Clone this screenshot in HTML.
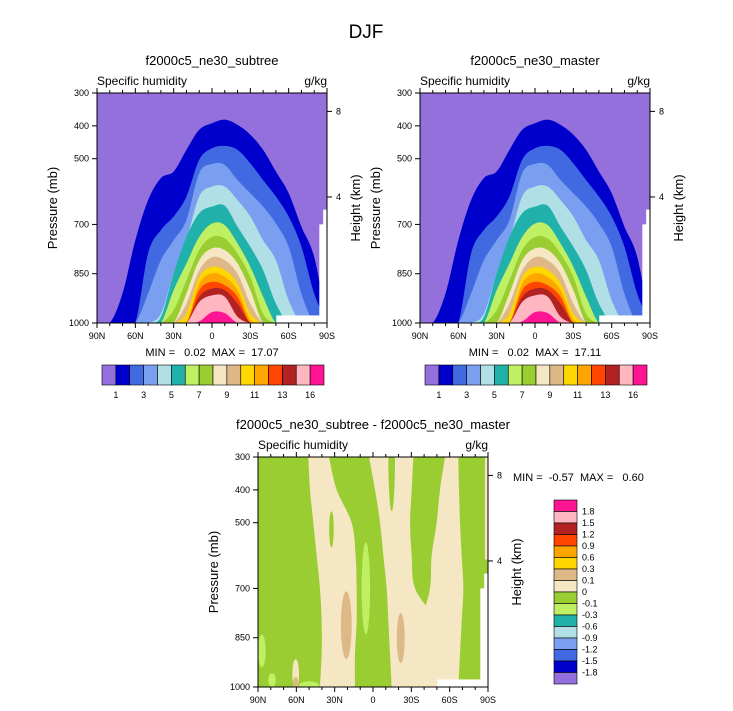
<!DOCTYPE html>
<html><head><meta charset="utf-8">
<style>
html,body{margin:0;padding:0;background:#fff;}
svg{display:block;font-family:"Liberation Sans",Arial,sans-serif;}
svg text{white-space:pre;}
</style></head>
<body>
<svg id="fig" width="733" height="711" viewBox="0 0 733 711" xmlns="http://www.w3.org/2000/svg">
<text x="366" y="38" font-size="19" text-anchor="middle">DJF</text>
<g id="pA"></g>
<g id="pB"></g>
<g id="pC"></g>
<g id="cbTop1"></g>
<g id="cbTop2"></g>
<g id="cbDiff"></g>
</svg>
<script>
// ---------- data ----------
const lats = [90,80,70,60,50,40,30,20,10,0,-10,-20,-30,-40,-50,-60,-70,-80,-90];
const lev1  = [1000,1000,910,748,626,559,539,473,412,392,381,397,427,473,539,605,707,799,1000];
const lev2  = [1000,1000,1000,1000,788,717,676,615,503,468,461,473,514,565,615,676,768,911,1000];
const lev3  = [1000,1000,1000,1000,910,809,748,687,544,516,519,565,605,646,697,768,911,1000,1000];
const lev4  = [1000,1000,1000,1000,1000,972,849,748,615,585,585,626,676,748,809,931,1000,1000,1000];
const lev5  = [1000,1000,1000,1000,1000,982,849,738,666,646,643,707,768,839,941,1000,1000,1000,1000];
const lev6  = [1000,1000,1000,1000,1000,1000,900,819,738,697,702,758,829,920,1000,1000,1000,1000,1000];
const lev7  = [1000,1000,1000,1000,1000,1000,961,870,778,738,743,789,860,972,1000,1000,1000,1000,1000];
const lev8  = [1000,1000,1000,1000,1000,1000,1000,910,809,773,778,819,900,1000,1000,1000,1000,1000,1000];
const lev9  = [1000,1000,1000,1000,1000,1000,1000,941,840,800,809,850,941,1000,1000,1000,1000,1000,1000];
const lev10 = [1000,1000,1000,1000,1000,1000,1000,972,860,829,839,880,972,1000,1000,1000,1000,1000,1000];
const lev11 = [1000,1000,1000,1000,1000,1000,1000,1000,880,849,860,900,990,1000,1000,1000,1000,1000,1000];
const lev12 = [1000,1000,1000,1000,1000,1000,1000,1000,900,875,885,920,1000,1000,1000,1000,1000,1000,1000];
const lev13 = [1000,1000,1000,1000,1000,1000,1000,1000,920,895,900,941,1000,1000,1000,1000,1000,1000,1000];
const lev14 = [1000,1000,1000,1000,1000,1000,1000,1000,936,916,920,981,1000,1000,1000,1000,1000,1000,1000];
const lev15 = [1000,1000,1000,1000,1000,1000,1000,1000,995,967,970,1000,1000,1000,1000,1000,1000,1000,1000];
const levels = [lev1,lev2,lev3,lev4,lev5,lev6,lev7,lev8,lev9,lev10,lev11,lev12,lev13,lev14,lev15];
const fillColors = ["#9370DB","#0000CD","#4169E1","#7B9FF0","#B0E0E6","#20B2AA","#BFEF63","#9ACD32","#F5E6C4","#DEB887","#FFD700","#FFA500","#FF4500","#B22222","#FFB6C1","#FF1493"];
const topBarLabels = ["1","3","5","7","9","11","13","16"];
const topBarLabelIdx = [1,3,5,7,9,11,13,15];
const diffBarLabels = ["1.8","1.5","1.2","0.9","0.6","0.3","0.1","0","-0.1","-0.3","-0.6","-0.9","-1.2","-1.5","-1.8"];
// difference bands (beige 0..0.1): pressure levels and left/right latitude edges
const bandP = [300,400,500,600,700,800,900,1000];
const bandALeft  = [50.6,49.3,46.7,44.1,41.5,40.2,40.2,41.5];
const bandARight = [34.4,28.4,16.7,13.6,12.8,12.8,14.1,14.1];
const bandBLeft  = [3.1,-1.6,-5.5,-8.1,-10.7,-12.0,-13.3,-14.6];
const bandBRight = [-31.6,-30.3,-29.0,-30.3,-32.9,-48.5,-48.5,-48.5];
const bandCLeft  = [-56.3,-52.4,-49.8,-45.9,-44.6,-38.1,-35.5,-38.1];
const bandCRight = [-66.8,-67.3,-68.1,-69.4,-70.7,-69.4,-68.1,-66.8];
// blobs: [lat, p, halfWidthDeg, halfHeightMb]
const greenBlobs = [[-14.6,300,2.6,165],[32.5,520,1.8,55]];
const beigeBlobs = [[60.5,960,2.6,45]];
const tanBlobs = [[20.9,812,4.2,103],[-21.7,851,3.1,76],[60.5,985,2,15],[-74,990,2,10]];
const lgBlobs  = [[5.6,700,3.3,140],[87,890,3,50],[79,980,3,22],[50,995,8,12]];
const xTickLabels = ["90N","60N","30N","0","30S","60S","90S"];
const xTickLats = [90,60,30,0,-30,-60,-90];
const pTicks = [300,400,500,700,850,1000];
const hTicks = [4,8];

const NS="http://www.w3.org/2000/svg";
function mk(parent,tag,attrs,txt){const e=document.createElementNS(NS,tag);for(const k in attrs)e.setAttribute(k,attrs[k]);if(txt!==undefined)e.textContent=txt;parent.appendChild(e);return e;}
function spline(pts){let d="M"+pts[0][0]+","+pts[0][1];for(let i=0;i<pts.length-1;i++){const p0=pts[Math.max(0,i-1)],p1=pts[i],p2=pts[i+1],p3=pts[Math.min(pts.length-1,i+2)];const c1=[p1[0]+(p2[0]-p0[0])/6,p1[1]+(p2[1]-p0[1])/6],c2=[p2[0]-(p3[0]-p1[0])/6,p2[1]-(p3[1]-p1[1])/6];d+=" C"+c1[0]+","+c1[1]+" "+c2[0]+","+c2[1]+" "+p2[0]+","+p2[1];}return d;}
function hToP(h){return 1013.25*Math.pow(1-2.25577e-5*h*1000,5.2559);}

function axes(g,x0,y0,w,h,id,title){
  const xs=lat=>x0+(90-lat)/180*w, yp=p=>y0+(p-300)/700*h;
  const cp=mk(g,"clipPath",{id:id}); mk(cp,"rect",{x:x0,y:y0,width:w,height:h});
  const data=mk(g,"g",{"clip-path":"url(#"+id+")"});
  
  
  return {xs,yp,data,x0,y0,w,h,title};
}
function frame(g,A){
  const {xs,yp,x0,y0,w,h}=A;
  const fr=mk(g,"rect",{x:x0,y:y0,width:w,height:h,fill:"none",stroke:"#000","stroke-width":1});
  
  
  for(let lat=90;lat>=-90;lat-=10){const x=xs(lat);const L=(lat%30===0)?5:3;
    mk(g,"line",{x1:x,y1:y0,x2:x,y2:y0-L,stroke:"#000","stroke-width":1});
    mk(g,"line",{x1:x,y1:y0+h,x2:x,y2:y0+h+L,stroke:"#000","stroke-width":1});}
  xTickLabels.forEach((t,i)=>{const e=mk(g,"text",{x:xs(xTickLats[i]),y:y0+h+16,"font-size":9,"text-anchor":"middle"},t);
    
    });
  pTicks.forEach(p=>{const y=yp(p);mk(g,"line",{x1:x0,y1:y,x2:x0-5,y2:y,stroke:"#000","stroke-width":1});
    const e=mk(g,"text",{x:x0-8,y:y+3,"font-size":9,"text-anchor":"end"},String(p));
    
    });
  hTicks.forEach(hk=>{const y=yp(hToP(hk));mk(g,"line",{x1:x0+w,y1:y,x2:x0+w+5,y2:y,stroke:"#000","stroke-width":1});
    const e=mk(g,"text",{x:x0+w+9,y:y+3,"font-size":9},String(hk));
    
    });
  let e=mk(g,"text",{x:x0-40,y:y0+h/2,"font-size":13,"text-anchor":"middle",transform:"rotate(-90 "+(x0-40)+" "+(y0+h/2)+")"},"Pressure (mb)");
  
  
  e=mk(g,"text",{x:x0+w+33,y:y0+h/2,"font-size":13,"text-anchor":"middle",transform:"rotate(-90 "+(x0+w+33)+" "+(y0+h/2)+")"},"Height (km)");
  
  
  e=mk(g,"text",{x:x0,y:y0-8,"font-size":12},"Specific humidity");
  
  
  e=mk(g,"text",{x:x0+w,y:y0-8,"font-size":12,"text-anchor":"end"},"g/kg");
  
  
  e=mk(g,"text",{x:x0+w/2,y:y0-28,"font-size":13,"text-anchor":"middle"},A.title);
  
  
}
function maskWhite(A){
  const {xs,yp,data}=A;
  mk(data,"rect",{x:xs(-50.3),y:yp(977),width:xs(-90)-xs(-50.3),height:yp(1000)-yp(977),fill:"#fff"});
  mk(data,"path",{d:"M"+xs(-84)+","+yp(1000)+" L"+xs(-84)+","+yp(700)+" L"+xs(-87)+","+yp(700)+" L"+xs(-87)+","+yp(655)+" L"+xs(-90)+","+yp(655)+" L"+xs(-90)+","+yp(1000)+"Z",fill:"#fff"});
}
function qPanel(gid,x0,title,mm){
  const g=document.getElementById(gid);
  const A=axes(g,x0,93,230,230,gid+"clip",title);
  const {xs,yp,data}=A;
  mk(data,"rect",{x:x0,y:93,width:230,height:230,fill:fillColors[0]});
  levels.forEach((lv,k)=>{
    const pts=lats.map((la,i)=>[xs(la),yp(lv[i])]);
    let d=spline(pts)+" L"+xs(-90)+","+yp(1005)+" L"+xs(90)+","+yp(1005)+"Z";
    const p=mk(data,"path",{d:d,fill:fillColors[k+1]});
    
    
  });
  maskWhite(A);
  frame(g,A);
  const e=mk(g,"text",{x:x0+115,y:356,"font-size":11,"text-anchor":"middle"},mm);
  
  
}
qPanel("pA",97,"f2000c5_ne30_subtree","MIN =   0.02  MAX =  17.07");
qPanel("pB",420,"f2000c5_ne30_master","MIN =   0.02  MAX =  17.11");

// difference panel
(function(){
  const g=document.getElementById("pC");
  const A=axes(g,258,457,230,230,"pCclip","f2000c5_ne30_subtree - f2000c5_ne30_master");
  const {xs,yp,data}=A;
  mk(data,"rect",{x:258,y:457,width:230,height:230,fill:"#9ACD32"});
  function band(L,R,name){
    const left=bandP.map((p,i)=>[xs(L[i]),yp(p)]);
    const right=bandP.map((p,i)=>[xs(R[i]),yp(p)]).reverse();
    left.unshift([xs(L[0]),yp(290)]); left.push([xs(L[L.length-1]),yp(1010)]);
    right.unshift([xs(R[R.length-1]),yp(1010)]); right.push([xs(R[0]),yp(290)]);
    const d=spline(left)+" L"+right[0][0]+","+right[0][1]+spline(right).replace(/^M[^C]*/," ")+"Z";
    const p=mk(data,"path",{d:d,fill:"#F5E6C4"});
    
    
  }
  band(bandALeft,bandARight,"positive-band-a");
  band(bandBLeft,bandBRight,"positive-band-b");
  band(bandCLeft,bandCRight,"positive-band-c");
  let s=mk(data,"rect",{x:xs(-87.6),y:yp(290),width:xs(-90)-xs(-87.6),height:yp(612)-yp(290),fill:"#F5E6C4"});
  
  
  function blobs(arr,color,name){arr.forEach(b=>{const e=mk(data,"ellipse",{cx:xs(b[0]),cy:yp(b[1]),rx:xs(90-b[2])-xs(90),ry:yp(300+b[3])-yp(300),fill:color});
    
    });}
  blobs(greenBlobs,"#9ACD32","negative-finger");
  blobs(beigeBlobs,"#F5E6C4","positive-blob");
  blobs(tanBlobs,"#DEB887","tan-blob");
  blobs(lgBlobs,"#BFEF63","light-green-blob");
  maskWhite(A);
  frame(g,A);
  const e=mk(g,"text",{x:513,y:481,"font-size":11},"MIN =  -0.57  MAX =   0.60");
  
  
})();

// colorbars
function hBar(gid,x0){
  const g=document.getElementById(gid);const bw=222/16;
  fillColors.forEach((c,i)=>{const r=mk(g,"rect",{x:x0+i*bw,y:365,width:bw,height:20,fill:c,stroke:"#000","stroke-width":0.6});
    
    });
  topBarLabels.forEach((t,i)=>{const e=mk(g,"text",{x:x0+topBarLabelIdx[i]*bw,y:398,"font-size":9,"text-anchor":"middle"},t);
    
    });
}
hBar("cbTop1",102); hBar("cbTop2",425);
(function(){
  const g=document.getElementById("cbDiff");const bh=184/16;
  fillColors.slice().reverse().forEach((c,i)=>{const r=mk(g,"rect",{x:554,y:500+i*bh,width:23,height:bh,fill:c,stroke:"#000","stroke-width":0.6});
    
    });
  diffBarLabels.forEach((t,i)=>{const e=mk(g,"text",{x:582,y:500+(i+1)*bh+3,"font-size":9},t);
    
    });
})();
</script>
</body></html>
